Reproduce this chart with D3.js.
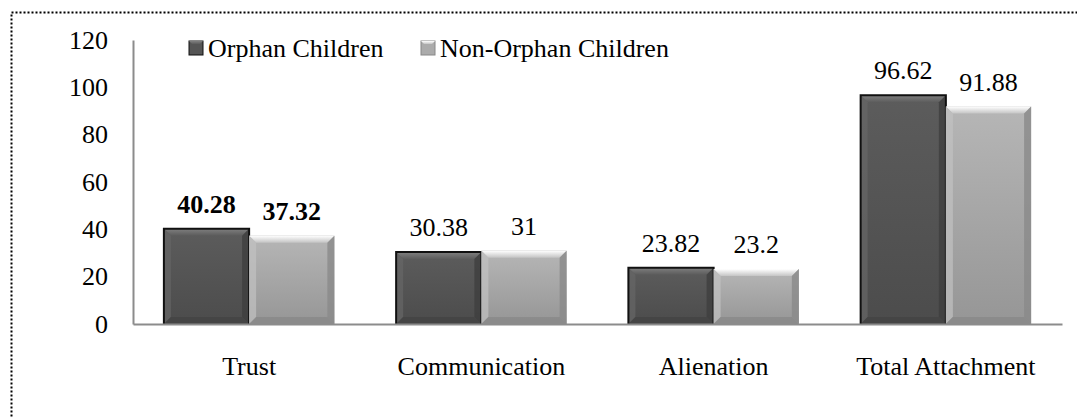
<!DOCTYPE html>
<head>
    <meta charset="utf-8">
    <title>Attachment Bar Chart</title>
    <script src="https://d3js.org/d3.v7.min.js"></script>
    <style>
        body { margin: 0; background: #fff; }
        svg text { font-family: "Liberation Serif", "Times New Roman", serif; fill: #000; font-size: 26px; }
    </style>
</head>
<body>
    <div id="container"></div>
    <script>
        //--------------------------DATA--------------------------//
        var categories = ["Trust", "Communication", "Alienation", "Total Attachment"];
        var seriesNames = ["Orphan Children", "Non-Orphan Children"];
        var orphanValues = [40.28, 30.38, 23.82, 96.62];
        var nonOrphanValues = [37.32, 31, 23.2, 91.88];
        var valueLabels = [["40.28", "30.38", "23.82", "96.62"], ["37.32", "31", "23.2", "91.88"]];
        var yTicks = [0, 20, 40, 60, 80, 100, 120];

        //--------------------------SETUP-------------------------//
        var W = 1077, H = 417;
        var margin = { top: 40, right: 15, bottom: 93, left: 133 };
        var width = W - margin.left - margin.right,
            height = H - margin.top - margin.bottom;

        var svg = d3.select("#container").append("svg")
            .attr("width", W).attr("height", H);

        // gradients for the bevelled bars
        var defs = svg.append("defs");
        var gradStops = [
            ["grad0", "#5c5c5c", "#4c4c4c"],
            ["grad1", "#b6b6b6", "#969696"],
            ["top0", "#808080", "#5c5c5c"],
            ["top1", "#ffffff", "#c4c4c4"]
        ];
        gradStops.forEach(function (gs) {
            var lg = defs.append("linearGradient").attr("id", gs[0])
                .attr("x1", 0).attr("y1", 0).attr("x2", 0).attr("y2", 1);
            lg.append("stop").attr("offset", "0%").attr("stop-color", gs[1]);
            lg.append("stop").attr("offset", "100%").attr("stop-color", gs[2]);
        });

        // dotted frame
        svg.append("rect")
            .attr("x", 11.5).attr("y", 12.5)
            .attr("width", W + 20).attr("height", H + 20)
            .attr("fill", "none").attr("stroke", "#000")
            .attr("stroke-width", 2).attr("stroke-dasharray", "2,2");

        var g = svg.append("g")
            .attr("transform", "translate(" + margin.left + "," + margin.top + ")");

        var x0 = d3.scaleBand().domain(categories).range([0, width]).paddingInner(0.266).paddingOuter(0.133);
        var x1 = d3.scaleBand().domain(seriesNames).range([0, x0.bandwidth()]);
        var y = d3.scaleLinear().domain([0, 120]).range([height, 0]);

        //--------------------------AXES--------------------------//
        var yAxis = g.append("g")
            .call(d3.axisLeft(y).tickValues(yTicks).tickSize(0).tickPadding(25));
        yAxis.select(".domain").attr("stroke", "#8c8c8c").attr("stroke-width", 2);

        //--------------------------BARS--------------------------//
        var styles = [
            { main: "url(#grad0)", top: "url(#top0)", left: "#666666", right: "#3e3e3e", bottom: "#444444", edge: "#111", key: "#555555" },
            { main: "url(#grad1)", top: "url(#top1)", left: "#c2c2c2", right: "#8a8a8a", bottom: "#888888", edge: null, key: "#ababab" }
        ];
        var rows = categories.map(function (c, i) {
            return { cat: c, vals: [orphanValues[i], nonOrphanValues[i]] };
        });

        var groups = g.selectAll(".grp").data(rows).enter().append("g")
            .attr("class", "grp")
            .attr("transform", function (d) { return "translate(" + x0(d.cat) + ",0)"; });

        var bev = 7;
        groups.each(function (d, i) {
            var grp = d3.select(this);
            d.vals.forEach(function (v, s) {
                var st = styles[s];
                var bx = x1(seriesNames[s]), bw = x1.bandwidth();
                var by = y(v), bh = height - y(v);
                var b = grp.append("g");
                b.append("rect").attr("x", bx).attr("y", by).attr("width", bw).attr("height", bh).attr("fill", st.main);
                // bevel top
                b.append("path").attr("fill", st.top)
                    .attr("d", "M" + bx + "," + by + "h" + bw + "l" + (-bev) + "," + bev + "h" + (-(bw - 2 * bev)) + "z");
                // bevel left
                b.append("path").attr("fill", st.left).attr("opacity", 0.7)
                    .attr("d", "M" + bx + "," + by + "l" + bev + "," + bev + "v" + (bh - 2 * bev) + "l" + (-bev) + "," + bev + "z");
                // bevel right
                b.append("path").attr("fill", st.right).attr("opacity", 0.8)
                    .attr("d", "M" + (bx + bw) + "," + by + "l" + (-bev) + "," + bev + "v" + (bh - 2 * bev) + "l" + bev + "," + bev + "z");
                // bevel bottom
                b.append("path").attr("fill", st.bottom).attr("opacity", 0.8)
                    .attr("d", "M" + bx + "," + height + "l" + bev + "," + (-bev) + "h" + (bw - 2 * bev) + "l" + bev + "," + bev + "z");
                if (st.edge) {
                    b.append("path").attr("fill", "none").attr("stroke", st.edge).attr("stroke-width", 2)
                        .attr("d", "M" + bx + "," + height + "V" + by + "H" + (bx + bw) + "V" + height);
                }
                grp.append("text")
                    .attr("x", bx + bw / 2)
                    .attr("y", by - 16)
                    .attr("text-anchor", "middle")
                    .style("font-weight", i === 0 ? "bold" : "normal")
                    .text(valueLabels[s][i]);
            });
        });

        var xAxis = g.append("g")
            .attr("transform", "translate(0," + height + ")")
            .call(d3.axisBottom(d3.scaleBand().domain(categories).range([0, width])).tickSize(0).tickPadding(33));
        xAxis.select(".domain").attr("stroke", "#8c8c8c").attr("stroke-width", 2);

        //--------------------------LEGEND------------------------//
        var legendX = [189, 421];
        seriesNames.forEach(function (name, s) {
            var st = styles[s];
            var lg = svg.append("g").attr("transform", "translate(" + legendX[s] + ",41)");
            lg.append("rect").attr("width", 14).attr("height", 14).attr("fill", st.key)
                .attr("stroke", s === 0 ? "#111" : "#888").attr("stroke-width", 1);
            lg.append("path").attr("fill", st.top).attr("d", "M0,0h14l-3,3h-8z");
            lg.append("text").attr("x", 19).attr("y", 16).text(name);
        });
    </script>
</body>
